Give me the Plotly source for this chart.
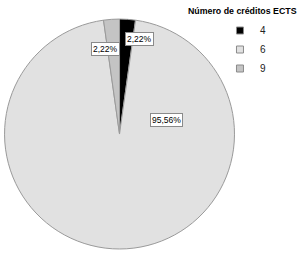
import plotly.graph_objects as go

categories = ["4", "6", "9"]
counts = [1, 43, 1]
pct_labels = ["2,22%", "95,56%", "2,22%"]
colors = ["#000000", "#e1e1e1", "#c4c4c4"]
legend_title = "Número de créditos ECTS"

FONT = "Liberation Sans, Arial, sans-serif"

fig = go.Figure()
fig.add_trace(go.Pie(
    labels=categories, values=counts, sort=False, direction="clockwise",
    rotation=0, textinfo="none", hoverinfo="label+percent", showlegend=False,
    marker=dict(colors=colors, line=dict(color="#9a9a9a", width=1)),
    domain=dict(x=[0.0149, 0.774], y=[0.0197, 0.925]),
))
for c, col in zip(categories, colors):
    fig.add_trace(go.Scatter(
        x=[None], y=[None], mode="markers", name=c,
        marker=dict(symbol="square", size=7, color=col, line=dict(color="#8a8a8a", width=1)),
    ))

# percentage labels
label_pos = [(0.462, 0.874), (0.551, 0.528), (0.347, 0.835)]
for txt, (x, y) in zip(pct_labels, label_pos):
    fig.add_annotation(x=x, y=y, xref="paper", yref="paper", text=txt, showarrow=False,
                       font=dict(family=FONT, size=8.5, color="#000"),
                       bgcolor="#ffffff", bordercolor="#8a8a8a", borderwidth=1, borderpad=1)

fig.add_annotation(x=0.80, y=0.955, xref="paper", yref="paper", xanchor="center",
                   yanchor="middle",
                   text="<b>" + legend_title + "</b>", showarrow=False,
                   font=dict(family=FONT, size=8.8, color="#000"))

fig.update_layout(
    width=303, height=254, margin=dict(l=0, r=0, t=0, b=0),
    paper_bgcolor="#ffffff", plot_bgcolor="#ffffff",
    xaxis=dict(visible=False), yaxis=dict(visible=False),
    legend=dict(x=0.726, y=0.937, xanchor="left", yanchor="top",
                font=dict(family=FONT, size=10, color="#222"),
                bgcolor="rgba(0,0,0,0)", itemwidth=30, tracegroupgap=0),
)
fig.write_html("out.html", config={"displayModeBar": False},
               post_script="document.body.style.margin='0';")
